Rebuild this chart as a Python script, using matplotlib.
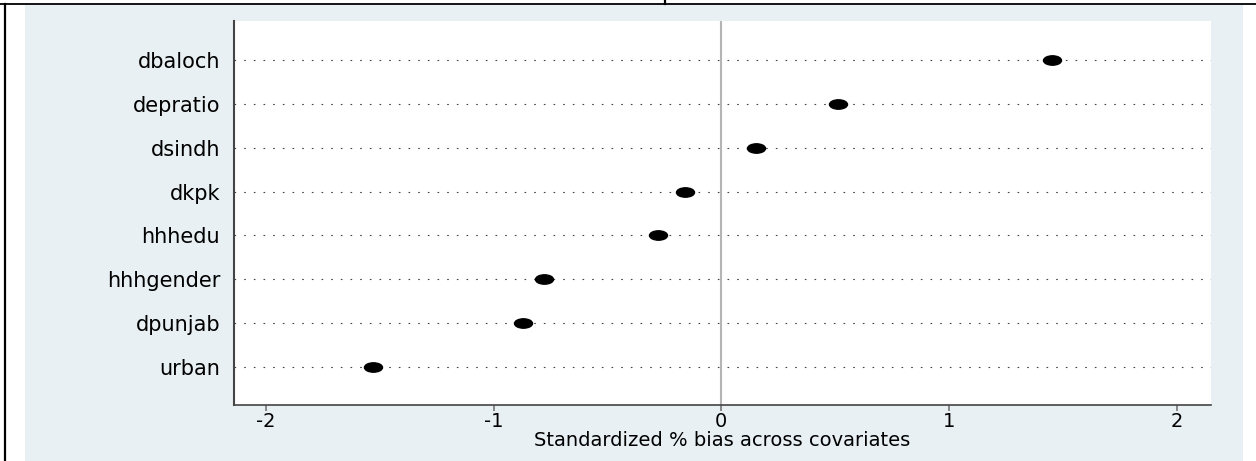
import matplotlib
matplotlib.use("Agg")
import matplotlib.pyplot as plt
from matplotlib.path import Path
from matplotlib.transforms import Affine2D
from matplotlib.lines import Line2D
from matplotlib.patches import Rectangle

# covariates, bottom to top
labels = ['urban', 'dpunjab', 'hhhgender', 'hhhedu', 'dkpk', 'dsindh', 'depratio', 'dbaloch']
bias = [-1.53, -0.87, -0.78, -0.28, -0.16, 0.15, 0.51, 1.45]
xticks = [-2, -1, 0, 1, 2]

W, H = 1256, 461
fig = plt.figure(figsize=(W / 100, H / 100), dpi=100)
fig.patch.set_facecolor('white')
plt.rcParams['font.family'] = ['DejaVu Sans']

# stata-like graph region
fig.add_artist(Rectangle((25 / W, 0), (1243 - 25) / W, (H - 5) / H,
                         transform=fig.transFigure, facecolor='#e8f0f3',
                         edgecolor='none', zorder=0))
# table borders of the scanned page
fig.add_artist(Line2D([0, 1], [(H - 4) / H] * 2, transform=fig.transFigure, color='black', lw=1.3))
fig.add_artist(Line2D([5 / W] * 2, [0, (H - 4) / H], transform=fig.transFigure, color='black', lw=1.6))
fig.add_artist(Line2D([665 / W] * 2, [(H - 4) / H, 1], transform=fig.transFigure, color='black', lw=1.6))

ax = fig.add_axes([234 / W, (H - 405) / H, (1211 - 234) / W, (405 - 21) / H])
ax.set_facecolor('white')

ypos = list(range(1, len(labels) + 1))
ax.hlines(ypos, -2.14, 2.15, colors='#444444', linestyles=(0, (1.5, 7.2)), lw=0.8, zorder=1)
ax.axvline(0, color='#b4b4b4', lw=1.5, zorder=1)

ellipse = Path.unit_circle().transformed(Affine2D().scale(1.0, 0.52))
ax.plot(bias, ypos, linestyle='none', marker=ellipse, markersize=13,
        color='black', zorder=3)

ax.set_xlim(-2.14, 2.15)
ax.set_ylim(0.136, 8.886)
ax.set_yticks(ypos)
ax.set_yticklabels(labels, fontsize=15)
ax.tick_params(axis='y', length=0, pad=10)
ax.set_xticks(xticks)
ax.set_xticklabels([str(t) for t in xticks], fontsize=14)
ax.tick_params(axis='x', length=4.5, width=1.2, color='#777777', pad=0.5)
ax.set_xlabel('Standardized % bias across covariates', fontsize=14, labelpad=0)

for s in ['top', 'right']:
    ax.spines[s].set_visible(False)
ax.spines['left'].set_color('#444444')
ax.spines['left'].set_linewidth(1.5)
ax.spines['bottom'].set_color('#444444')
ax.spines['bottom'].set_linewidth(1.2)

fig.savefig('out.png', dpi=100)
